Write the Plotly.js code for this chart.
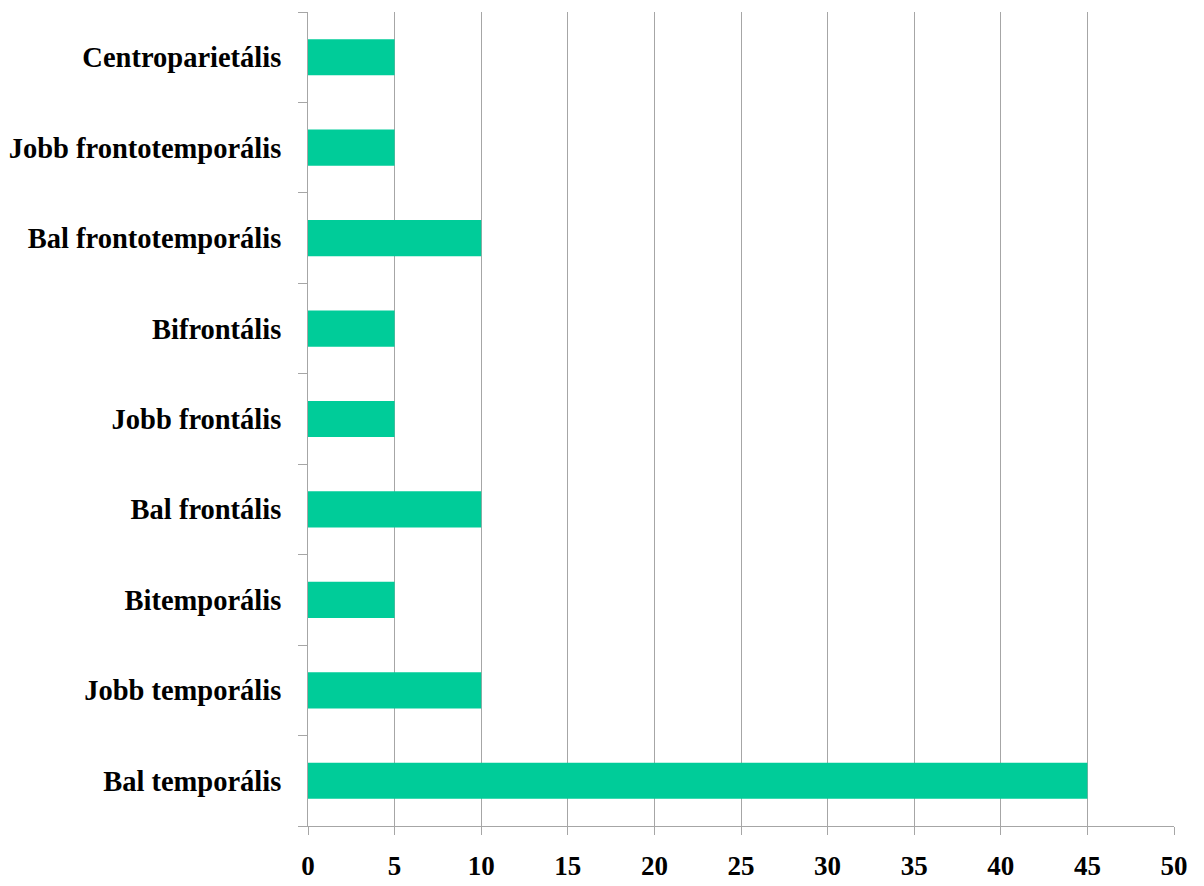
<!DOCTYPE html>
<html>
<head>
<meta charset="utf-8">
<script src="https://cdn.plot.ly/plotly-3.0.1.min.js"></script>
<style>
  html, body { margin: 0; padding: 0; background: #fff; }
  #chart { width: 1204px; height: 886px; }
</style>
</head>
<body>
<div id="chart"></div>
<script>
// Localisation categories, bottom to top
const regions = [
  "Bal temporális",
  "Jobb temporális",
  "Bitemporális",
  "Bal frontális",
  "Jobb frontális",
  "Bifrontális",
  "Bal frontotemporális",
  "Jobb frontotemporális",
  "Centroparietális"
];
// Percentage of cases per region
const percentages = [45, 10, 5, 10, 5, 5, 10, 5, 5];
const xTicks = [0, 5, 10, 15, 20, 25, 30, 35, 40, 45, 50];

const serif = "'Liberation Serif', 'Times New Roman', serif";

const trace = {
  type: "bar",
  orientation: "h",
  y: regions,
  x: percentages,
  width: 0.4,
  marker: { color: "#00CC99", line: { width: 0 } },
  hoverinfo: "x+y"
};

const layout = {
  width: 1204,
  height: 886,
  margin: { l: 308, r: 30, t: 12, b: 60 },
  paper_bgcolor: "#ffffff",
  plot_bgcolor: "#ffffff",
  showlegend: false,
  xaxis: {
    range: [0, 50],
    tickvals: xTicks,
    ticktext: xTicks.map(String),
    showgrid: true,
    gridcolor: "#a6a6a6",
    gridwidth: 1,
    zeroline: false,
    showline: true,
    linecolor: "#a6a6a6",
    linewidth: 1,
    ticks: "outside",
    ticklen: 8,
    tickcolor: "#a6a6a6",
    ticklabelstandoff: 8,
    tickfont: { family: serif, size: 27, color: "#000", weight: "bold" },
    fixedrange: true
  },
  yaxis: {
    type: "category",
    categoryorder: "array",
    categoryarray: regions,
    range: [-0.5, regions.length - 0.5],
    showgrid: false,
    zeroline: false,
    showline: true,
    linecolor: "#a6a6a6",
    linewidth: 1,
    ticks: "outside",
    tickson: "boundaries",
    ticklen: 9,
    tickcolor: "#a6a6a6",
    ticklabelstandoff: 20,
    tickfont: { family: serif, size: 28.5, color: "#000", weight: "bold" },
    fixedrange: true
  }
};

Plotly.newPlot("chart", [trace], layout, { displayModeBar: false, staticPlot: true });
</script>
</body>
</html>
